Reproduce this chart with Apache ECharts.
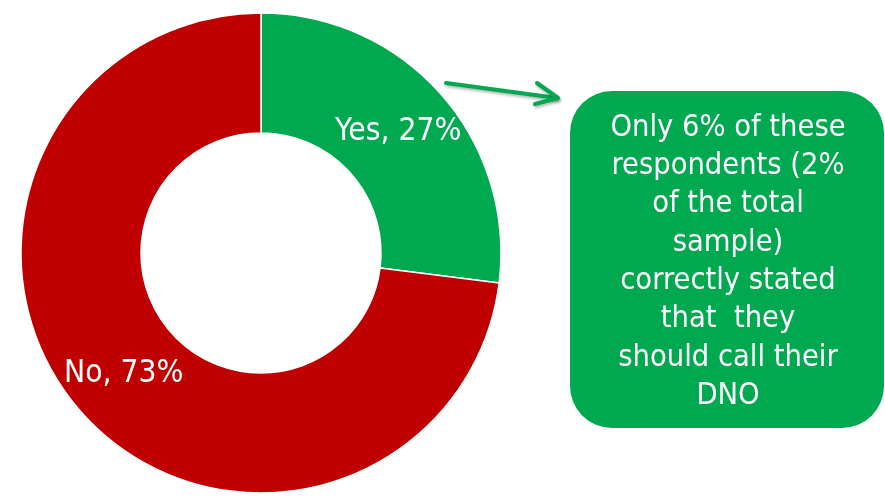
<!DOCTYPE html>
<html>
<head>
<meta charset="utf-8">
<script src="https://cdn.jsdelivr.net/npm/echarts@6/dist/echarts.min.js"></script>
<style>
html,body{margin:0;padding:0;background:#fff;}
#chart{width:885px;height:498px;}
</style>
</head>
<body>
<div id="chart"></div>
<script>
const categories = ['Yes', 'No'];
const values = [27, 73];
const sliceColors = ['#00A850', '#C00000'];
const noteLines = [
  'Only 6% of these',
  'respondents (2%',
  'of the total',
  'sample)',
  'correctly stated',
  'that  they',
  'should call their',
  'DNO'
];

const FONT = "'DejaVu Sans Condensed', 'DejaVu Sans', sans-serif";
const chart = echarts.init(document.getElementById('chart'), null, {renderer: 'canvas'});

const green = '#00A850';

chart.setOption({
  animation: false,
  backgroundColor: '#ffffff',
  series: [{
    type: 'pie',
    center: [261, 253],
    radius: [120, 240],
    startAngle: 90,
    clockwise: true,
    avoidLabelOverlap: false,
    itemStyle: { borderColor: '#ffffff', borderWidth: 1.5 },
    label: {
      show: true,
      position: 'inside',
      color: '#ffffff',
      fontFamily: FONT,
      fontSize: 31.5,
      formatter: p => p.name + ', ' + p.value + '%'
    },
    labelLine: { show: false },
    emphasis: { disabled: true },
    data: categories.map((c, i) => ({
      name: c,
      value: values[i],
      itemStyle: { color: sliceColors[i] }
    }))
  }],
  graphic: [
    {
      type: 'rect',
      shape: { x: 570, y: 91, width: 314, height: 337, r: 42 },
      style: { fill: green }
    },
    {
      type: 'text',
      x: 728,
      y: 262,
      style: {
        text: noteLines.join('\n'),
        fill: '#ffffff',
        fontSize: 30.5,
        fontFamily: FONT,
        lineHeight: 38.3,
        align: 'center',
        verticalAlign: 'middle'
      }
    },
    {
      type: 'polyline',
      shape: { points: [[446, 83], [557, 98]] },
      style: {
        stroke: green, lineWidth: 4, lineCap: 'round',
        shadowColor: 'rgba(0,0,0,0.3)', shadowBlur: 3, shadowOffsetX: 1, shadowOffsetY: 2
      }
    },
    {
      type: 'polyline',
      shape: { points: [[537, 83], [558, 98], [535, 104]] },
      style: {
        stroke: green, lineWidth: 4, lineCap: 'round', lineJoin: 'round', fill: null,
        shadowColor: 'rgba(0,0,0,0.3)', shadowBlur: 3, shadowOffsetX: 1, shadowOffsetY: 2
      }
    }
  ]
});
</script>
</body>
</html>
